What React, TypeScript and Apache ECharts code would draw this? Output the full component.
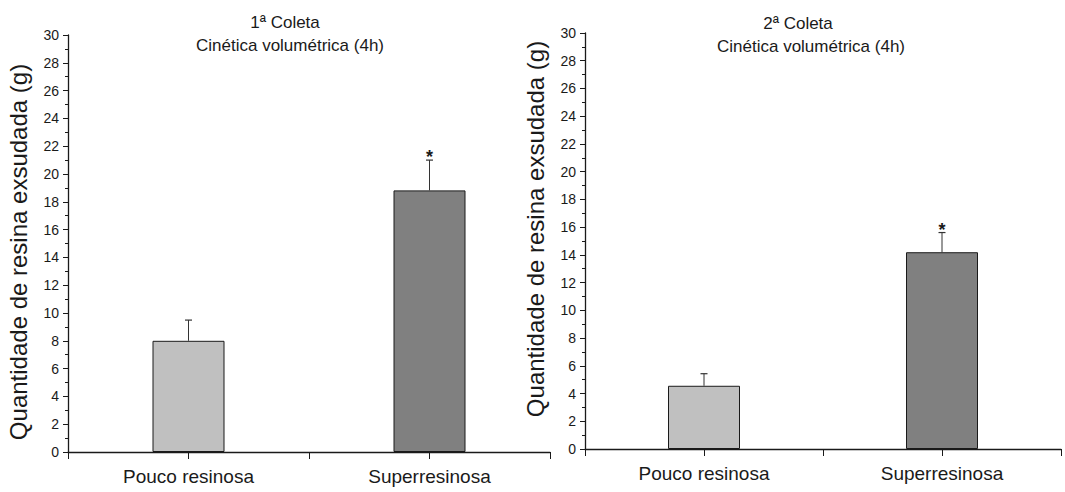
import React, { useEffect, useRef } from "react";
import * as echarts from "echarts";

const categories = ["Pouco resinosa", "Superresinosa"];
const categoryPositions = [1, 3];
const coleta1Means = [8.0, 18.82];
const coleta1Errors = [1.49, 2.18];
const coleta2Means = [4.56, 14.19];
const coleta2Errors = [0.87, 1.42];
const significant = [0, 1];
const barColors = ["#c0c0c0", "#808080"];
const titleLine1 = ["1ª Coleta", "2ª Coleta"];
const titleLine2 = "Cinética volumétrica (4h)";
const yAxisName = "Quantidade de resina exsudada (g)";

const FONT = "'Liberation Sans', Arial, Helvetica, sans-serif";
const INK = "#1a1a1a";

function barData(means: number[]) {
  return means.map((m, i) => ({
    value: [categoryPositions[i], m],
    itemStyle: { color: barColors[i], borderColor: INK, borderWidth: 1 },
  }));
}

function errData(means: number[], errs: number[]) {
  return means.map((m, i) => [categoryPositions[i], m, errs[i], significant[i]]);
}

const renderErr = (params: any, api: any) => {
  const x = api.value(0);
  const m = api.value(1);
  const e = api.value(2);
  const s = api.value(3);
  const p0 = api.coord([x, m]);
  const p1 = api.coord([x, m + e]);
  const children: any[] = [
    {
      type: "line",
      shape: { x1: p0[0], y1: p0[1], x2: p1[0], y2: p1[1] },
      style: { stroke: "#333", lineWidth: 1 },
    },
    {
      type: "line",
      shape: { x1: p1[0] - 3.5, y1: p1[1], x2: p1[0] + 3.5, y2: p1[1] },
      style: { stroke: "#333", lineWidth: 1.2 },
    },
  ];
  if (s) {
    children.push({
      type: "text",
      x: p1[0],
      y: p1[1] + 6,
      style: {
        text: "*",
        fontSize: 18,
        fontWeight: "bold",
        fontFamily: FONT,
        fill: INK,
        align: "center",
        verticalAlign: "bottom",
      },
    });
  }
  return { type: "group", children };
};

function xAxisCfg(gridIndex: number) {
  return {
    type: "value",
    gridIndex,
    min: 0,
    max: 4,
    interval: 1,
    axisLine: { show: true, onZero: false, lineStyle: { color: INK, width: 1.3 } },
    axisTick: { show: true, inside: false, length: 7, lineStyle: { color: INK, width: 1 } },
    splitLine: { show: false },
    axisLabel: {
      show: true,
      margin: 15,
      fontSize: 19,
      fontFamily: FONT,
      color: INK,
      hideOverlap: false,
      formatter: (v: number) => {
        const i = categoryPositions.indexOf(v);
        return i >= 0 ? categories[i] : "";
      },
    },
  };
}

function yAxisCfg(gridIndex: number, padding: number[]) {
  return {
    type: "value",
    gridIndex,
    min: 0,
    max: 30,
    interval: 2,
    name: yAxisName,
    nameLocation: "middle",
    nameGap: 38,
    nameRotate: 90,
    nameTextStyle: { fontSize: 24, fontFamily: FONT, color: INK, padding },
    axisLine: { show: true, onZero: false, lineStyle: { color: INK, width: 1.3 } },
    axisTick: { show: true, inside: false, length: 5, lineStyle: { color: INK, width: 1 } },
    minorTick: { show: true, splitNumber: 2, length: 3, lineStyle: { color: INK, width: 1 } },
    splitLine: { show: false },
    minorSplitLine: { show: false },
    axisLabel: { margin: 9, fontSize: 14, fontFamily: FONT, color: INK },
  };
}

export default function App() {
  const ref = useRef<HTMLDivElement>(null);
  useEffect(() => {
    if (!ref.current) return;
    const chart = echarts.init(ref.current, null, { renderer: "svg" });
    const titleStyle = { fontSize: 17, fontWeight: "normal", fontFamily: FONT, color: INK };
    chart.setOption({
      animation: false,
      backgroundColor: "#ffffff",
      title: [
        { text: titleLine1[0], left: 285, top: 14, textAlign: "center", textStyle: titleStyle, padding: 0 },
        { text: titleLine2, left: 290, top: 37, textAlign: "center", textStyle: titleStyle, padding: 0 },
        { text: titleLine1[1], left: 798, top: 15, textAlign: "center", textStyle: titleStyle, padding: 0 },
        { text: titleLine2, left: 811, top: 38, textAlign: "center", textStyle: titleStyle, padding: 0 },
      ],
      grid: [
        { left: 68, top: 35, width: 482, height: 417, outerBoundsMode: "none", containLabel: false },
        { left: 585, top: 33, width: 476, height: 416, outerBoundsMode: "none", containLabel: false },
      ],
      xAxis: [xAxisCfg(0), xAxisCfg(1)],
      yAxis: [yAxisCfg(0, [0, 17, 0, 0]), yAxisCfg(1, [0, 0, 0, 24])],
      series: [
        {
          type: "bar",
          xAxisIndex: 0,
          yAxisIndex: 0,
          barWidth: 72,
          data: barData(coleta1Means),
        },
        {
          type: "custom",
          xAxisIndex: 0,
          yAxisIndex: 0,
          renderItem: renderErr,
          encode: { x: 0, y: 1 },
          data: errData(coleta1Means, coleta1Errors),
          z: 3,
        },
        {
          type: "bar",
          xAxisIndex: 1,
          yAxisIndex: 1,
          barWidth: 72,
          data: barData(coleta2Means),
        },
        {
          type: "custom",
          xAxisIndex: 1,
          yAxisIndex: 1,
          renderItem: renderErr,
          encode: { x: 0, y: 1 },
          data: errData(coleta2Means, coleta2Errors),
          z: 3,
        },
      ],
    });
    return () => chart.dispose();
  }, []);
  return (
    <div
      ref={ref}
      style={{ position: "absolute", left: 0, top: 0, width: 1065, height: 492, background: "#fff" }}
    />
  );
}
